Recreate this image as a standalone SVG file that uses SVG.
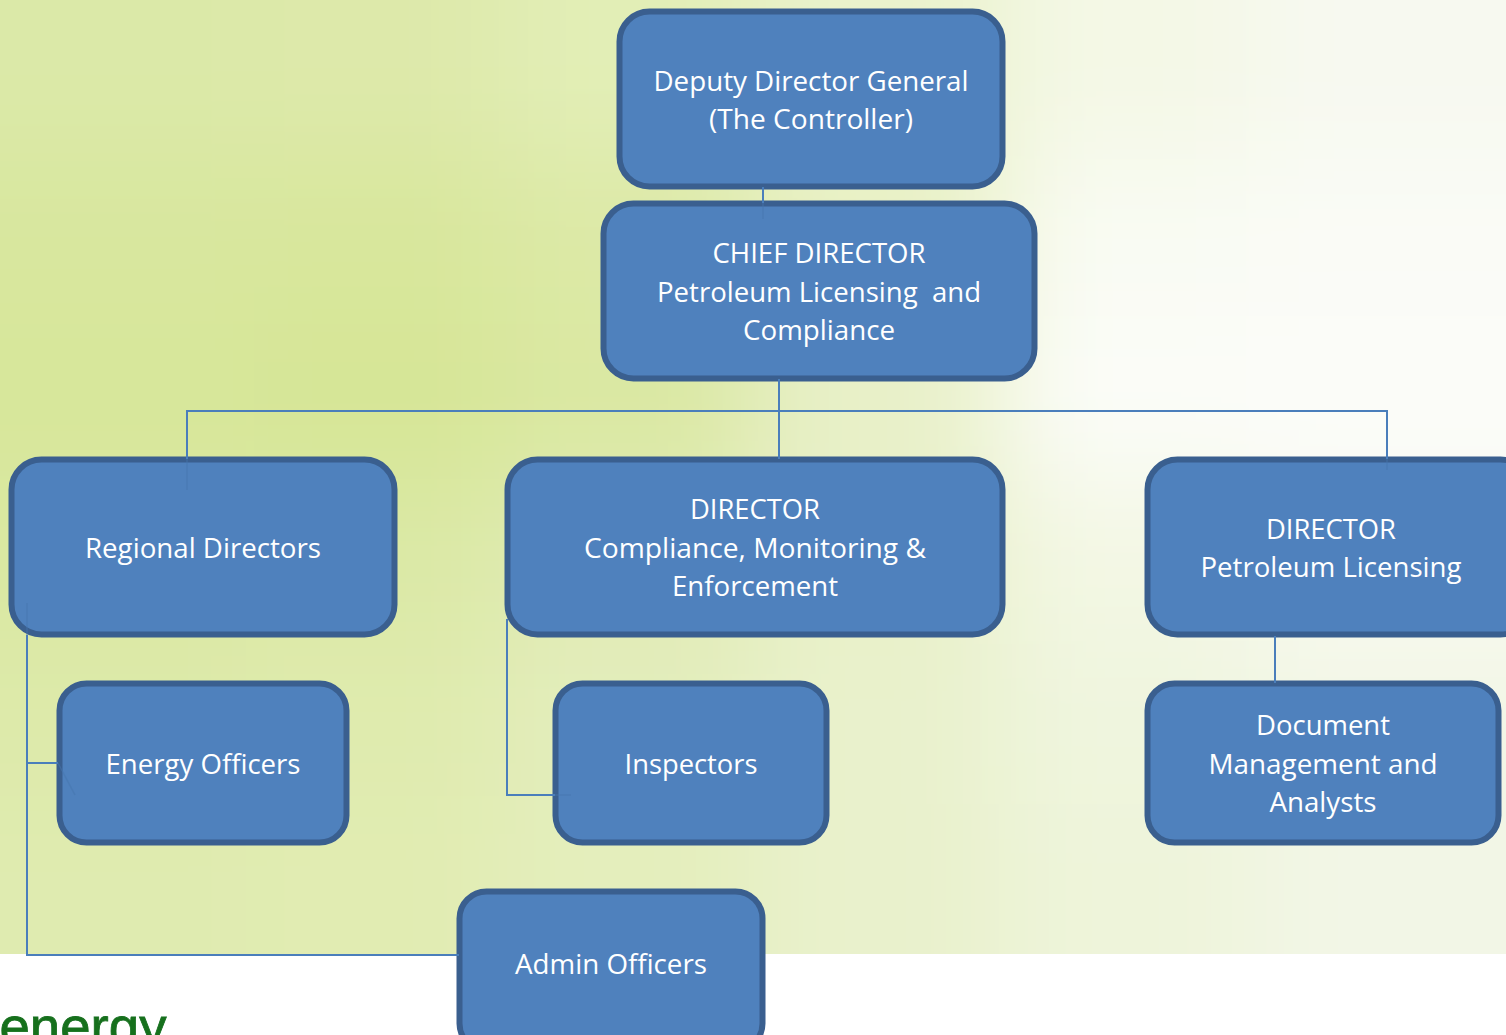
<svg xmlns="http://www.w3.org/2000/svg" width="1506" height="1035" viewBox="0 0 1506 1035">
<defs>
<filter id="soft" filterUnits="userSpaceOnUse" x="-400" y="-400" width="2400" height="2000" color-interpolation-filters="sRGB"><feGaussianBlur stdDeviation="55"/></filter>
<filter id="logoBlur" filterUnits="userSpaceOnUse" x="-10" y="980" width="200" height="80"><feGaussianBlur stdDeviation="0.7"/></filter>
<clipPath id="bgClip"><rect width="1506" height="954"/></clipPath>
</defs>
<style>
.n{fill:#4f81bd;stroke:#3a5f8f;stroke-width:6}
.c{fill:none;stroke:#4a7ebb;stroke-width:2}
.f{fill:none;stroke:#4675ad;stroke-width:1.5;stroke-opacity:.5}
text{font-family:"Open Sans","Liberation Sans",sans-serif;font-size:28px;fill:#fff;text-anchor:middle}
.logo{font-family:"Liberation Sans",sans-serif;font-size:53px;fill:#15701f;stroke:#15701f;stroke-width:.8}
</style>
<g id="background">
<rect width="1506" height="1035" fill="#fff"/>
<g clip-path="url(#bgClip)"><g filter="url(#soft)" shape-rendering="crispEdges">
<rect x="-300" y="-300" width="550" height="460" fill="#dbe9a8"/><rect x="250" y="-300" width="250" height="460" fill="#dde9aa"/><rect x="500" y="-300" width="250" height="460" fill="#e2eeb6"/><rect x="750" y="-300" width="250" height="460" fill="#eaf2cc"/><rect x="1000" y="-300" width="250" height="460" fill="#f4f8e6"/><rect x="1250" y="-300" width="700" height="460" fill="#f7f9f0"/>
<rect x="-300" y="160" width="550" height="160" fill="#d8e79e"/><rect x="250" y="160" width="250" height="160" fill="#d8e79c"/><rect x="500" y="160" width="250" height="160" fill="#dce9a6"/><rect x="750" y="160" width="250" height="160" fill="#e8f0c4"/><rect x="1000" y="160" width="250" height="160" fill="#f9fbf3"/><rect x="1250" y="160" width="700" height="160" fill="#fafbf6"/>
<rect x="-300" y="320" width="550" height="160" fill="#d7e79a"/><rect x="250" y="320" width="250" height="160" fill="#d6e696"/><rect x="500" y="320" width="250" height="160" fill="#dae8a2"/><rect x="750" y="320" width="250" height="160" fill="#e8f0c8"/><rect x="1000" y="320" width="250" height="160" fill="#fbfcf8"/><rect x="1250" y="320" width="700" height="160" fill="#fbfcf9"/>
<rect x="-300" y="480" width="550" height="160" fill="#dae8a2"/><rect x="250" y="480" width="250" height="160" fill="#dbe9a6"/><rect x="500" y="480" width="250" height="160" fill="#e0ebb4"/><rect x="750" y="480" width="250" height="160" fill="#e8f0c8"/><rect x="1000" y="480" width="250" height="160" fill="#f3f7e4"/><rect x="1250" y="480" width="700" height="160" fill="#f8faf0"/>
<rect x="-300" y="640" width="550" height="160" fill="#ddeaaa"/><rect x="250" y="640" width="250" height="160" fill="#dfebae"/><rect x="500" y="640" width="250" height="160" fill="#e3edbc"/><rect x="750" y="640" width="250" height="160" fill="#e9f1cc"/><rect x="1000" y="640" width="250" height="160" fill="#eff5de"/><rect x="1250" y="640" width="700" height="160" fill="#f2f6e6"/>
<rect x="-300" y="800" width="550" height="700" fill="#dfebb0"/><rect x="250" y="800" width="250" height="700" fill="#e1ecb2"/><rect x="500" y="800" width="250" height="700" fill="#e4eebc"/><rect x="750" y="800" width="250" height="700" fill="#e9f1cc"/><rect x="1000" y="800" width="250" height="700" fill="#eef4da"/><rect x="1250" y="800" width="700" height="700" fill="#f2f6e6"/>
</g></g>
<text class="logo" x="83" y="1045" filter="url(#logoBlur)" textLength="167" lengthAdjust="spacingAndGlyphs">energy</text>
</g>
<g id="n1"><rect class="n" x="619.5" y="11.5" width="383" height="175" rx="30"/>
<text x="811" y="91" textLength="315" lengthAdjust="spacingAndGlyphs">Deputy Director General</text>
<text x="811" y="129" textLength="204" lengthAdjust="spacingAndGlyphs">(The Controller)</text></g>
<g id="n2"><rect class="n" x="603.5" y="203.5" width="431" height="175" rx="30"/>
<text x="819" y="263" textLength="213" lengthAdjust="spacingAndGlyphs">CHIEF DIRECTOR</text>
<text x="819" y="302" textLength="324" lengthAdjust="spacingAndGlyphs" style="white-space:pre">Petroleum Licensing  and</text>
<text x="819" y="340" textLength="152" lengthAdjust="spacingAndGlyphs">Compliance</text></g>
<g id="n3"><rect class="n" x="11.5" y="459.5" width="383" height="175" rx="30"/>
<text x="203" y="558" textLength="236" lengthAdjust="spacingAndGlyphs">Regional Directors</text></g>
<g id="n4"><rect class="n" x="507.5" y="459.5" width="495" height="175" rx="30"/>
<text x="755" y="519" textLength="130" lengthAdjust="spacingAndGlyphs">DIRECTOR</text>
<text x="755" y="558" textLength="342" lengthAdjust="spacingAndGlyphs">Compliance, Monitoring &amp;</text>
<text x="755" y="596" textLength="166" lengthAdjust="spacingAndGlyphs">Enforcement</text></g>
<g id="n5"><rect class="n" x="1147.5" y="459.5" width="383" height="175" rx="30"/>
<text x="1331" y="539" textLength="130" lengthAdjust="spacingAndGlyphs">DIRECTOR</text>
<text x="1331" y="577" textLength="261" lengthAdjust="spacingAndGlyphs">Petroleum Licensing</text></g>
<g id="n6"><rect class="n" x="59.5" y="683.5" width="287" height="159" rx="27"/>
<text x="203" y="774" textLength="195" lengthAdjust="spacingAndGlyphs">Energy Officers</text></g>
<g id="n7"><rect class="n" x="555.5" y="683.5" width="271" height="159" rx="27"/>
<text x="691" y="774" textLength="133" lengthAdjust="spacingAndGlyphs">Inspectors</text></g>
<g id="n8"><rect class="n" x="1147.5" y="683.5" width="351" height="159" rx="27"/>
<text x="1323" y="735" textLength="134" lengthAdjust="spacingAndGlyphs">Document</text>
<text x="1323" y="774" textLength="229" lengthAdjust="spacingAndGlyphs">Management and</text>
<text x="1323" y="812" textLength="107" lengthAdjust="spacingAndGlyphs">Analysts</text></g>
<g id="n9"><rect class="n" x="459.5" y="891.5" width="303" height="159" rx="27"/>
<text x="611" y="974" textLength="192" lengthAdjust="spacingAndGlyphs">Admin Officers</text></g>
<g id="connectors">
<path class="c" d="M763 187V203"/>
<path class="f" d="M763 203V219"/>
<path class="c" d="M779 379V459"/>
<path class="c" d="M187 459V411H1387V459"/>
<path class="f" d="M187 459V490M1387 459V470"/>
<path class="c" d="M1275 636V683"/>
<path class="f" d="M27 603V635"/>
<path class="c" d="M27 635V955H459"/>
<path class="c" d="M27 763H58"/>
<path class="f" d="M58 763L75 795"/>
<path class="c" d="M507 619V795H555"/>
<path class="f" d="M555 795H571"/>
</g>
</svg>
